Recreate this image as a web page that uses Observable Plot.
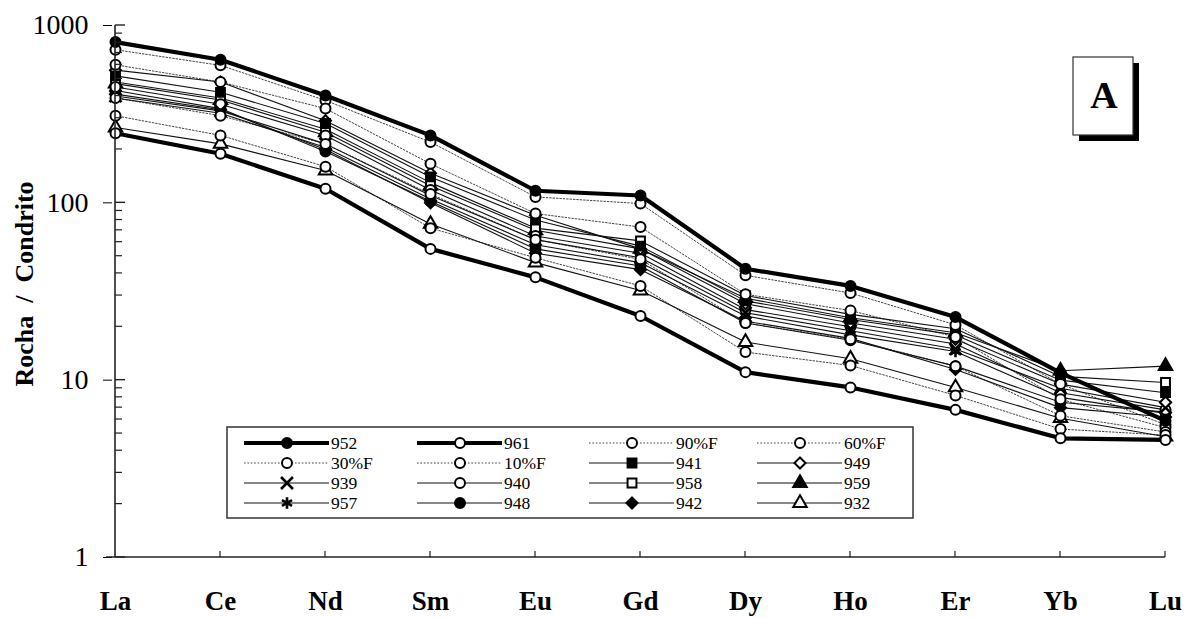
<!DOCTYPE html>
<html><head><meta charset="utf-8">
<script src="https://cdn.jsdelivr.net/npm/d3@7"></script>
<script src="https://cdn.jsdelivr.net/npm/@observablehq/plot@0.6"></script>
<style>body{margin:0;background:#fff} svg{display:block}</style>
</head><body><div id="chart"></div>
<script>
// ---- data ----
const elements = ["La","Ce","Nd","Sm","Eu","Gd","Dy","Ho","Er","Yb","Lu"];
const yTicks = [1, 10, 100, 1000];
const seriesNames = ["952","961","90%F","60%F","30%F","10%F","941","949","939","940","958","959","957","948","942","932"];

const v952  = [806, 641, 403, 240, 117, 110, 42.5, 34, 22.7, 11, 5.9];
const v961  = [247, 189, 120, 55, 38, 23, 11.1, 9.1, 6.8, 4.7, 4.6];
const v90F  = [310, 240, 160, 72, 49, 34, 14.4, 12.1, 8.2, 5.3, 4.9];
const v60F  = [390, 310, 215, 112, 62, 48, 21, 17, 12, 6.3, 5.1];
const v30F  = [600, 480, 340, 166, 87, 73, 30.5, 24.7, 17.5, 7.8, 5.4];
const v10F  = [730, 596, 378, 220, 108, 99, 39, 31, 20.5, 9.5, 5.6];
const v941  = [520, 420, 280, 140, 80, 57, 28, 22, 18, 10, 8.5];
const v949  = [560, 480, 290, 147, 85, 55, 27, 21, 17, 9.5, 7.5];
const v939  = [400, 330, 215, 110, 62, 49, 24, 19, 15, 9, 7];
const v940  = [450, 360, 240, 118, 65, 52, 25, 20, 16, 8.5, 6.8];
const v958  = [480, 390, 260, 130, 72, 61, 30, 23.5, 19.5, 10.5, 9.7];
const v959  = [470, 380, 250, 125, 70, 55, 29, 22.5, 18.5, 11.3, 12];
const v957  = [390, 320, 205, 105, 58, 46, 23, 18, 14.5, 8, 6.5];
const v948  = [430, 340, 195, 102, 55, 44, 21, 16.8, 12, 7.5, 6.6];
const v942  = [410, 335, 200, 100, 52, 42, 21.5, 17.2, 11.5, 7, 6.2];
const v932  = [266, 215, 152, 76, 46, 32, 16.4, 13.2, 9.1, 6.1, 4.8];

const valuesBy = {"952":v952,"961":v961,"90%F":v90F,"60%F":v60F,"30%F":v30F,"10%F":v10F,
  "941":v941,"949":v949,"939":v939,"940":v940,"958":v958,"959":v959,"957":v957,"948":v948,"942":v942,"932":v932};

// ---- styles ----
const styleBy = {
  "952":  {kind:"thick",  symbol:"circle",   fill:"black"},
  "961":  {kind:"thick",  symbol:"circle",   fill:"white"},
  "90%F": {kind:"model",  symbol:"circle",   fill:"white"},
  "60%F": {kind:"model",  symbol:"circle",   fill:"white"},
  "30%F": {kind:"model",  symbol:"circle",   fill:"white"},
  "10%F": {kind:"model",  symbol:"circle",   fill:"white"},
  "941":  {kind:"sample", symbol:"square",   fill:"black"},
  "949":  {kind:"sample", symbol:"diamond2", fill:"white"},
  "939":  {kind:"sample", symbol:"times",    fill:"none"},
  "940":  {kind:"sample", symbol:"circle",   fill:"white"},
  "958":  {kind:"sample", symbol:"square",   fill:"white"},
  "959":  {kind:"sample", symbol:"triangle", fill:"black"},
  "957":  {kind:"sample", symbol:"asterisk", fill:"none"},
  "948":  {kind:"sample", symbol:"circle",   fill:"black"},
  "942":  {kind:"sample", symbol:"diamond2", fill:"black"},
  "932":  {kind:"sample", symbol:"triangle", fill:"white"}
};
const lineStyle = {
  thick:  {stroke:"black", strokeWidth:4.2},
  model:  {stroke:"#444", strokeWidth:1, strokeDasharray:"1.6,1.8"},
  sample: {stroke:"#111", strokeWidth:1.1}
};
const R = 5;
const FONT = "Liberation Serif, Times New Roman, Times, DejaVu Serif, serif";

const rows = seriesNames.flatMap(s => elements.map((el, i) => ({series: s, el, v: valuesBy[s][i]})));
const rowsOf = s => rows.filter(d => d.series === s);
const rowsKind = k => rows.filter(d => styleBy[d.series].kind === k);

const lineMark = k => Plot.line(rowsKind(k), {x:"el", y:"v", z:"series", ...lineStyle[k]});
const dotMarks = seriesNames.slice().reverse().map(s => {
  const st = styleBy[s];
  const thin = st.symbol === "times" || st.symbol === "asterisk";
  return Plot.dot(rowsOf(s), {x:"el", y:"v", r: thin ? R + 0.5 : R, symbol: st.symbol,
    fill: st.fill, stroke:"black", strokeWidth: thin ? 2.6 : 2});
});

const plot = Plot.plot({
  width: 1187, height: 618,
  marginLeft: 112, marginRight: 20, marginTop: 25, marginBottom: 61,
  x: {type:"point", domain: elements, padding: 0},
  y: {type:"log", domain:[1, 1000]},
  style: {fontFamily: FONT, background:"white", color:"black"},
  marks: [
    lineMark("model"),
    lineMark("sample"),
    lineMark("thick"),
    ...dotMarks,
    Plot.axisX({tickSize: 0, tickPadding: 33, fontSize: 27, fontWeight: "bold", fontFamily: FONT, label: null}),
    Plot.axisY({ticks: yTicks, tickSize: 9, tickPadding: 15, tickFormat: d => String(d), fontSize: 28, fontFamily: FONT, label: null})
  ]
});
document.getElementById("chart").appendChild(plot);

// ---- overlay decorations using Plot's scales ----
const sx = plot.scale("x"), sy = plot.scale("y");
const X = v => sx.apply(v), Y = v => sy.apply(v);
const svg = d3.select(plot);
const g = svg.append("g").attr("stroke", "#222").attr("fill", "none");
const x0 = X(elements[0]), xN = X(elements[elements.length - 1]);
g.append("line").attr("x1", x0).attr("x2", x0).attr("y1", Y(1000)).attr("y2", Y(1)).attr("stroke-width", 1.6);
g.append("line").attr("x1", x0 - 9).attr("x2", xN).attr("y1", Y(1)).attr("y2", Y(1)).attr("stroke-width", 1.6);
yTicks.forEach(t => g.append("line").attr("x1", x0).attr("x2", x0 + 10).attr("y1", Y(t)).attr("y2", Y(t)).attr("stroke-width", 1.4));
[1, 10, 100].forEach(dec => d3.range(2, 10).forEach(m =>
  g.append("line").attr("x1", x0).attr("x2", x0 + 7).attr("y1", Y(dec * m)).attr("y2", Y(dec * m)).attr("stroke-width", 1.2)));
elements.slice(1).forEach(el => g.append("line").attr("x1", X(el)).attr("x2", X(el)).attr("y1", Y(1)).attr("y2", Y(1) - 6).attr("stroke-width", 1.2));

// y title
svg.append("text").attr("transform", "translate(33,284) rotate(-90)").attr("text-anchor", "middle")
  .attr("font-family", FONT).attr("font-size", 26).attr("font-weight", "bold").attr("fill", "black")
  .style("white-space", "pre").text("Rocha  /  Condrito");

// panel label A
const ga = svg.append("g");
ga.append("rect").attr("x", 1079).attr("y", 63).attr("width", 60).attr("height", 78).attr("fill", "black");
ga.append("rect").attr("x", 1073).attr("y", 57).attr("width", 60).attr("height", 78).attr("fill", "white").attr("stroke", "#333").attr("stroke-width", 1.2);
ga.append("text").attr("x", 1104).attr("y", 108).attr("text-anchor", "middle").attr("font-family", FONT)
  .attr("font-size", 38).attr("font-weight", "bold").attr("fill", "black").text("A");

// legend
const lg = svg.append("g");
lg.append("rect").attr("x", 227).attr("y", 427).attr("width", 686).attr("height", 91)
  .attr("fill", "white").attr("stroke", "#333").attr("stroke-width", 1.5);
const colX = [287, 460, 632, 800], rowY = [443, 463, 483, 503];
const symbolMap = {circle: d3.symbolCircle, square: d3.symbolSquare, diamond2: d3.symbolDiamond2,
  times: d3.symbolTimes, triangle: d3.symbolTriangle, asterisk: d3.symbolAsterisk};
seriesNames.forEach((s, i) => {
  const cx = colX[i % 4], cy = rowY[Math.floor(i / 4)];
  const st = styleBy[s], ls = lineStyle[st.kind];
  lg.append("line").attr("x1", cx - 43).attr("x2", cx + 42).attr("y1", cy).attr("y2", cy)
    .attr("stroke", ls.stroke).attr("stroke-width", ls.strokeWidth).attr("stroke-dasharray", ls.strokeDasharray || null);
  const thin = st.symbol === "times" || st.symbol === "asterisk";
  const r = thin ? R + 0.5 : R;
  lg.append("path").attr("transform", `translate(${cx},${cy})`)
    .attr("d", d3.symbol(symbolMap[st.symbol], r * r * Math.PI)())
    .attr("fill", st.fill).attr("stroke", "black").attr("stroke-width", thin ? 2.6 : 2);
  lg.append("text").attr("x", cx + 44).attr("y", cy).attr("dy", "0.35em").attr("text-anchor", "start")
    .attr("font-family", FONT).attr("font-size", 17.5).attr("fill", "black").text(s);
});
</script>
</body></html>
